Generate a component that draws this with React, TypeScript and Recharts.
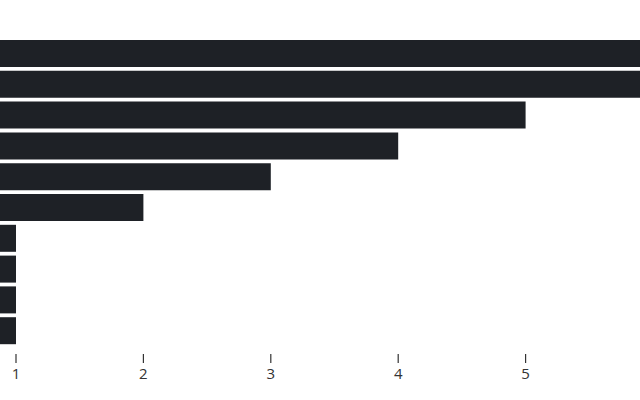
import { BarChart, Bar, XAxis, YAxis } from 'recharts'

const categories = ['A', 'B', 'C', 'D', 'E', 'F', 'G', 'H', 'I', 'J']
const values = [6, 6, 5, 4, 3, 2, 1, 1, 1, 1]
const tickValues = [1, 2, 3, 4, 5]

const data = categories.map((name, i) => ({ name, value: values[i] }))

function Tick(props: any) {
    const { x, y, payload } = props
    return (
        <g>
            <line x1={x} x2={x} y1={y + 8} y2={y + 17} stroke="#333" strokeWidth={1.2} />
            <text
                x={x}
                y={y + 33}
                textAnchor="middle"
                fill="#333"
                fontSize={15}
                fontFamily="'Open Sans', sans-serif"
            >
                {payload.value}
            </text>
        </g>
    )
}

export default function App() {
    return (
        <div style={{ position: 'absolute', left: 0, top: 0, width: 640, height: 400, background: '#fff' }}>
            <BarChart
                width={640}
                height={400}
                data={data}
                layout="vertical"
                margin={{ top: 38, right: 0, bottom: 0, left: 0 }}
                barCategoryGap={2}
            >
                <XAxis
                    type="number"
                    domain={[0.8744, 5.898]}
                    allowDataOverflow
                    ticks={tickValues}
                    axisLine={false}
                    tickLine={false}
                    tickSize={0}
                    tickMargin={0}
                    height={54}
                    tick={<Tick />}
                    interval={0}
                />
                <YAxis type="category" dataKey="name" hide width={0} />
                <Bar dataKey="value" fill="#1e2126" isAnimationActive={false} />
            </BarChart>
        </div>
    )
}
